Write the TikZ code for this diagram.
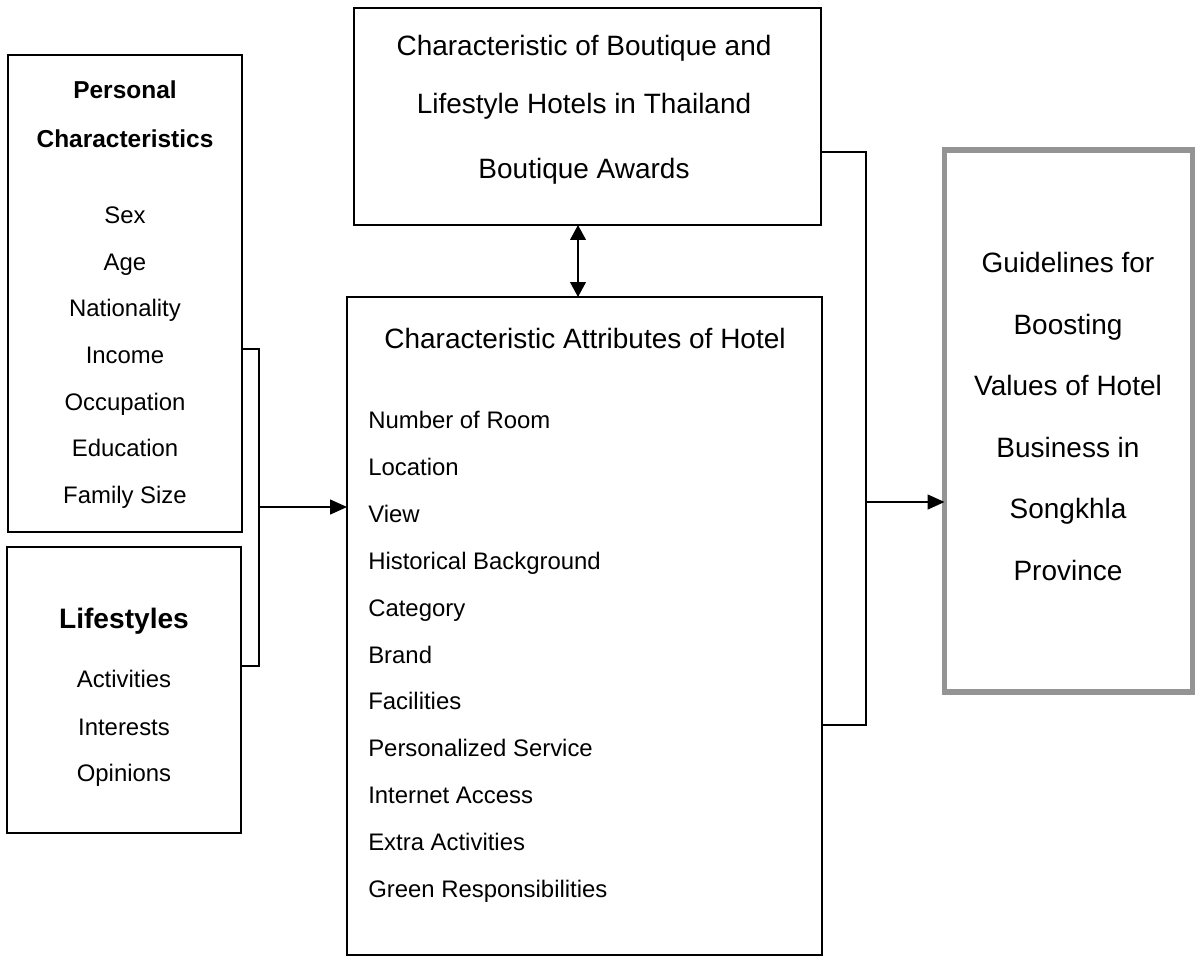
\documentclass[tikz,border=0pt]{standalone}
\usepackage{fontspec}
\setmainfont{Liberation Sans}
\usetikzlibrary{arrows.meta}
\def\pxu{0.025cm}
\begin{document}
\begin{tikzpicture}[x=0.025cm,y=-0.025cm,
  box/.style={draw=black, line width=1.5pt, inner sep=0pt, outer sep=0pt},
  gbox/.style={draw=black!42, line width=3.6pt, inner sep=0pt, outer sep=0pt},
  txt/.style={anchor=base, inner sep=0pt, font=\fontsize{17}{20}\selectfont},
  ltxt/.style={anchor=base west, inner sep=0pt, font=\fontsize{17}{20}\selectfont},
  big/.style={anchor=base, inner sep=0pt, font=\fontsize{19.9}{24}\selectfont},
  bold/.style={anchor=base, inner sep=0pt, font=\fontsize{17.4}{20}\selectfont\bfseries},
  bbold/.style={anchor=base, inner sep=0pt, font=\fontsize{20}{24}\selectfont\bfseries},
  conn/.style={draw=black, line width=1.3pt},
  arr/.style={conn, -{Triangle[length=12pt,width=10.5pt]}},
  darr/.style={conn, {Triangle[length=10.5pt,width=11pt]}-{Triangle[length=10.5pt,width=11pt]}}
]
\useasboundingbox (0,0) rectangle (1200,961);
% boxes
\node[box, minimum width=234*\pxu, minimum height=477*\pxu] (pc) at (125,293.5) {};
\node[box, minimum width=234*\pxu, minimum height=286*\pxu] (ls) at (124,690) {};
\node[box, minimum width=467*\pxu, minimum height=217*\pxu] (tb) at (587.5,116.5) {};
\node[box, minimum width=475*\pxu, minimum height=658*\pxu] (ha) at (584.5,626) {};
\node[gbox, minimum width=248*\pxu, minimum height=542*\pxu] (gd) at (1068.5,421) {};
% personal characteristics
\node[bold] (pc0) at (125,98) {Personal};
\node[bold] (pc00) at (125,147) {Characteristics};
\node[txt] (pc1) at (125,223) {Sex};
\node[txt] (pc2) at (125,270) {Age};
\node[txt] (pc3) at (125,316) {Nationality};
\node[txt] (pc4) at (125,363) {Income};
\node[txt] (pc5) at (125,410) {Occupation};
\node[txt] (pc6) at (125,456) {Education};
\node[txt] (pc7) at (125,503) {Family Size};
% lifestyles
\node[bbold] (ls0) at (124,628) {Lifestyles};
\node[txt] (ls1) at (124,687) {Activities};
\node[txt] (ls2) at (124,735) {Interests};
\node[txt] (ls3) at (124,781) {Opinions};
% top box
\node[big] (tb1) at (584,55) {Characteristic of Boutique and};
\node[big] (tb2) at (584,113) {Lifestyle Hotels in Thailand};
\node[big] (tb3) at (584,178) {Boutique Awards};
% attributes
\node[big] (ha0) at (585,348) {Characteristic Attributes of Hotel};
\node[ltxt] (ha1) at (368,428) {Number of Room};
\node[ltxt] (ha2) at (368,475) {Location};
\node[ltxt] (ha3) at (368,522) {View};
\node[ltxt] (ha4) at (368,569) {Historical Background};
\node[ltxt] (ha5) at (368,616) {Category};
\node[ltxt] (ha6) at (368,663) {Brand};
\node[ltxt] (ha7) at (368,709) {Facilities};
\node[ltxt] (ha8) at (368,756) {Personalized Service};
\node[ltxt] (ha9) at (368,803) {Internet Access};
\node[ltxt] (ha10) at (368,850) {Extra Activities};
\node[ltxt] (ha11) at (368,897) {Green Responsibilities};
% guidelines
\node[big] (gd1) at (1068,272) {Guidelines for};
\node[big] (gd2) at (1068,334) {Boosting};
\node[big] (gd3) at (1068,395) {Values of Hotel};
\node[big] (gd4) at (1068,457) {Business in};
\node[big] (gd5) at (1068,518) {Songkhla};
\node[big] (gd6) at (1068,580) {Province};
% connectors
\coordinate (lb1) at (259,349);
\coordinate (lb2) at (259,666);
\coordinate (la) at (259,507);
\draw[conn] (pc.east |- lb1) -- (lb1) -- (lb2) -- (ls.east |- lb2);
\draw[arr] (la) -- (la -| ha.west);
\coordinate (rb1) at (866,152);
\coordinate (rb2) at (866,725);
\coordinate (ra) at (866,502);
\draw[conn] (tb.east |- rb1) -- (rb1) -- (rb2) -- (ha.east |- rb2);
\draw[arr] (ra) -- (ra -| gd.west);
\coordinate (dx) at (578,0);
\draw[darr] (tb.south -| dx) -- (ha.north -| dx);
\end{tikzpicture}
\end{document}
